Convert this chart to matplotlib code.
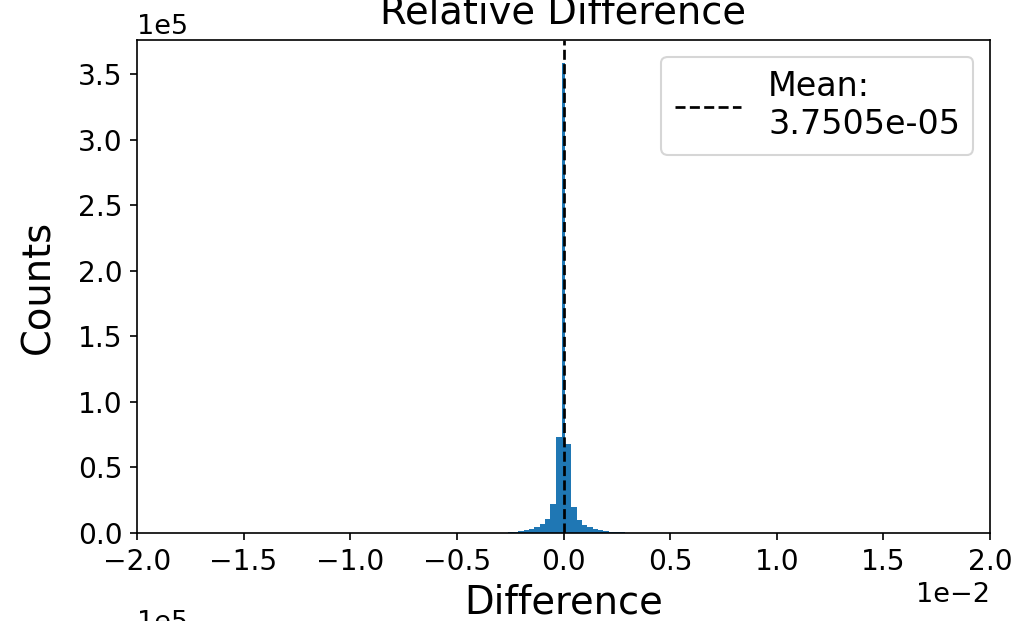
import numpy as np
import matplotlib
matplotlib.use("Agg")
import matplotlib.pyplot as plt

# histogram counts (bins of width 2.5e-4, narrow bin at 0)
bin_width = 0.00025
center_half = 0.00008
center_count = 3.58e5
left_counts = [7.3e4, 2.2e4, 1.1e4, 7.0e3, 4.5e3, 3.0e3, 2.0e3, 1.3e3, 8.0e2, 5.0e2,
               3.0e2, 2.0e2, 1.4e2, 1.0e2, 7.0e1, 5.0e1]   # going outward from 0
right_counts = [6.8e4, 2.0e4, 1.0e4, 6.0e3, 4.5e3, 3.3e3, 2.2e3, 1.5e3, 1.0e3, 6.0e2,
                4.0e2, 2.5e2, 1.6e2, 1.1e2, 7.0e1, 5.0e1]
mean_value = 3.7505e-05
x_limits = (-0.02, 0.02)

# bin edges: narrow centre bin, wider first neighbours, then regular bins
n = len(left_counts)
right_edges = [center_half] + [0.5 * bin_width + bin_width * (k + 1) for k in range(n)]
left_edges = [-e for e in right_edges[::-1]]
edges = np.array(left_edges + right_edges)
counts = np.array(left_counts[::-1] + [center_count] + right_counts)
centers = 0.5 * (edges[:-1] + edges[1:])

fig = plt.figure(figsize=(1023 / 150, 621 / 150), dpi=150)
ax = fig.add_axes([137 / 1023, 1 - 533 / 621, (990 - 137) / 1023, (533 - 40) / 621])

ax.hist(centers, bins=edges, weights=counts, color="#1f77b4")
ax.axvline(mean_value, color="k", linestyle="--", lw=1.3, label=f"Mean:\n{mean_value:.4e}")

ax.set_xlim(*x_limits)
ax.ticklabel_format(style="sci", scilimits=(0, 0), axis="both")
ax.tick_params(labelsize=13.5)
ax.xaxis.get_offset_text().set_fontsize(13)
ax.yaxis.get_offset_text().set_fontsize(13)
ax.set_xlabel("Difference", fontsize=18.5)
ax.set_ylabel("Counts", fontsize=18.5, labelpad=10)
ax.set_title("Relative Difference", fontsize=18.5, pad=8)
ax.legend(fontsize=16)

# offset text of the next subplot, cut by the bottom edge
fig.text(137 / 1023, -0.014, "1e5", fontsize=13)

fig.savefig("out.png", dpi=150)
